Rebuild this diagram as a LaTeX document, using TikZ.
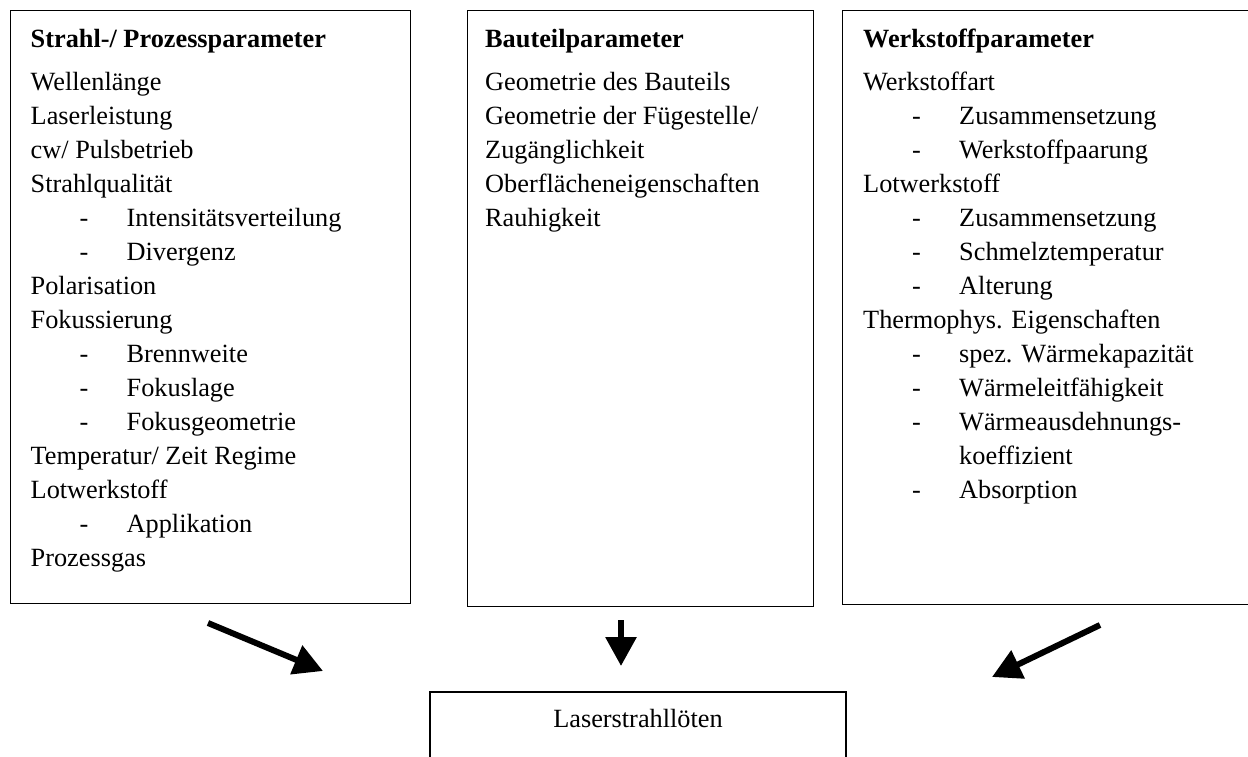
\documentclass[tikz,border=0pt]{standalone}
\usepackage{fontspec}
\setmainfont{Liberation Serif}
\usetikzlibrary{arrows.meta,positioning}

% Unterpunkt mit Spiegelstrich
\newcommand{\unterpunkt}[1]{\hspace*{49pt}\makebox[47pt][l]{-}#1}

\begin{document}
\begin{tikzpicture}[
  x=1pt, y=-1pt,
  font=\fontsize{26.3pt}{34pt}\selectfont,
  kasten/.style={rectangle, draw, line width=1.2pt, anchor=north west, inner sep=0pt},
  inhalt/.style={anchor=north west, inner sep=0pt, align=left},
  pfeil/.style={-{Triangle[length=29pt, width=30pt]}, line width=6pt}
]
\useasboundingbox (0,0) rectangle (1248,757);
\clip (0,0) rectangle (1248,757);

% Parameterkaesten
\node[kasten, minimum width=400pt, minimum height=593pt] (strahl) at (10,10) {};
\node[kasten, minimum width=346pt, minimum height=596pt] (bauteil) at (467,10) {};
\node[kasten, minimum width=420pt, minimum height=594pt] (werkstoff) at (842,10) {};

\node[inhalt, below right=17pt and 20.5pt of strahl.north west] (strahltxt) {%
  \textbf{Strahl-/ Prozessparameter}\rule{0pt}{20pt}\\[9pt]
  Wellenlänge\\
  Laserleistung\\
  cw/ Pulsbetrieb\\
  Strahlqualität\\
  \unterpunkt{Intensitätsverteilung}\\
  \unterpunkt{Divergenz}\\
  Polarisation\\
  Fokussierung\\
  \unterpunkt{Brennweite}\\
  \unterpunkt{Fokuslage}\\
  \unterpunkt{Fokusgeometrie}\\
  Temperatur/ Zeit Regime\\
  Lotwerkstoff\\
  \unterpunkt{Applikation}\\
  Prozessgas};

\node[inhalt, below right=17pt and 18pt of bauteil.north west] (bauteiltxt) {%
  \textbf{Bauteilparameter}\rule{0pt}{20pt}\\[9pt]
  Geometrie des Bauteils\\
  Geometrie der Fügestelle/\\
  Zugänglichkeit\\
  Oberflächeneigenschaften\\
  Rauhigkeit};

\node[inhalt, below right=17pt and 21pt of werkstoff.north west] (werkstofftxt) {%
  \textbf{Werkstoffparameter}\rule{0pt}{20pt}\\[9pt]
  Werkstoffart\\
  \unterpunkt{Zusammensetzung}\\
  \unterpunkt{Werkstoffpaarung}\\
  Lotwerkstoff\\
  \unterpunkt{Zusammensetzung}\\
  \unterpunkt{Schmelztemperatur}\\
  \unterpunkt{Alterung}\\
  Thermophys. Eigenschaften\\
  \unterpunkt{spez. Wärmekapazität}\\
  \unterpunkt{Wärmeleitfähigkeit}\\
  \unterpunkt{Wärmeausdehnungs-}\\
  \hspace*{96pt}koeffizient\\
  \unterpunkt{Absorption}};

% Ergebnis
\node[rectangle, draw, line width=1.2pt, anchor=base, minimum width=416pt,
      text height=20pt, text depth=60pt, inner ysep=15pt] (loeten) at (638,727) {Laserstrahllöten};

% Pfeile
\coordinate (p1a) at (208,623);
\coordinate (p1b) at (323,671);
\coordinate (p2a) at (621,620);
\coordinate (p2b) at (621,666);
\coordinate (p3a) at (1100,625);
\coordinate (p3b) at (992,677);

\draw[pfeil] (p1a) -- (p1b);
\draw[pfeil] (p2a) -- (p2b);
\draw[pfeil] (p3a) -- (p3b);
\end{tikzpicture}
\end{document}
